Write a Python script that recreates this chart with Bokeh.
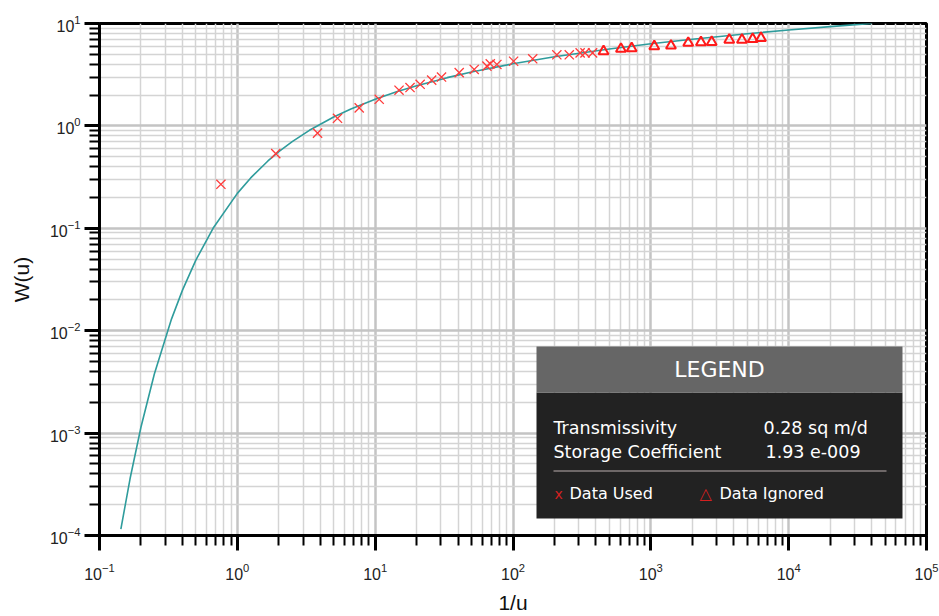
from bokeh.plotting import figure
from bokeh.models import (FixedTicker, BoxAnnotation, Label)
from bokeh.embed import file_html
from bokeh.resources import INLINE

# Theis type curve (1/u, W(u))
curve_inv_u = [0.1429, 0.1667, 0.2, 0.25, 0.3333, 0.4, 0.5, 0.6667, 1.0, 1.25, 1.667,
               2.0, 2.5, 3.333, 5.0, 6.667, 10.0, 14.29, 20.0, 33.33, 50.0, 100.0,
               200.0, 500.0, 1000.0, 2000.0, 5000.0, 10000.0, 20000.0, 40000.0]
curve_w = [1.155e-4, 3.601e-4, 1.148e-3, 3.779e-3, 1.305e-2, 2.491e-2, 4.890e-2, 0.1000,
           0.2194, 0.3106, 0.4544, 0.5598, 0.7024, 0.9057, 1.2227, 1.4645, 1.8229,
           2.1508, 2.4679, 2.9591, 3.3547, 4.0379, 4.7261, 5.6394, 6.3315, 7.0242,
           7.9402, 8.6332, 9.3263, 10.0194]

# Data used (x markers)
used_x = [0.76, 1.9, 3.82, 5.33, 7.66, 10.7, 14.9, 17.9, 21.2, 25.7, 30.3, 40.7, 52.3,
          64.7, 68.4, 76.4, 101, 139, 208, 256, 307, 333, 378]
used_w = [0.269, 0.536, 0.85, 1.187, 1.50, 1.82, 2.23, 2.37, 2.55, 2.80, 3.00, 3.31, 3.56,
          3.83, 4.04, 3.98, 4.28, 4.52, 4.95, 4.95, 5.16, 5.16, 5.16]

# Data ignored (triangles)
ignored_x = [454, 607, 726, 1059, 1400, 1868, 2310, 2763, 3707, 4583, 5481, 6297]
ignored_w = [5.35, 5.64, 5.72, 5.98, 6.07, 6.46, 6.54, 6.59, 6.94, 6.94, 7.05, 7.21]

x_decades = [-1, 0, 1, 2, 3, 4, 5]
y_decades = [-4, -3, -2, -1, 0, 1]

p = figure(width=939, height=616, x_axis_type="log", y_axis_type="log",
           x_range=(1e-1, 1e5), y_range=(1e-4, 1e1),
           output_backend="svg", toolbar_location=None,
           min_border_left=99, min_border_right=13, min_border_top=23, min_border_bottom=76)

xt = FixedTicker(ticks=[10.0 ** d for d in x_decades],
                 minor_ticks=[m * 10.0 ** d for d in x_decades[:-1] for m in range(2, 10)])
yt = FixedTicker(ticks=[10.0 ** d for d in y_decades],
                 minor_ticks=[m * 10.0 ** d for d in y_decades[:-1] for m in range(2, 10)])
p.xaxis.ticker = xt
p.yaxis.ticker = yt

for ax in (p.xaxis[0], p.yaxis[0]):
    ax.axis_line_width = 3
    ax.axis_line_color = "black"
    ax.major_tick_out = 15
    ax.major_tick_in = 0
    ax.minor_tick_out = 10
    ax.minor_tick_in = 0
    ax.major_tick_line_width = 3
    ax.minor_tick_line_width = 2
    ax.major_label_text_font = "Liberation Sans"
    ax.major_label_text_font_size = "16px"
    ax.major_label_text_color = "#222222"
    ax.axis_label_text_font = "Liberation Sans"
    ax.axis_label_text_font_size = "21px"
    ax.axis_label_text_font_style = "normal"
    ax.axis_label_text_color = "#111111"

p.xaxis.axis_label = "1/u"
p.yaxis.axis_label = "W(u)"
p.xaxis.major_label_standoff = 12
p.xaxis.axis_label_standoff = 8
p.yaxis.major_label_standoff = 4
p.yaxis.axis_label_standoff = 14

for g in (p.xgrid[0], p.ygrid[0]):
    g.grid_line_color = "#c4c4c4"
    g.grid_line_width = 2.5
    g.minor_grid_line_color = "#d4d4d4"
    g.minor_grid_line_width = 1.5

p.outline_line_color = "black"
p.outline_line_width = 3
p.background_fill_color = "white"
p.border_fill_color = "white"

p.line(curve_inv_u, curve_w, line_color="#2f9c9c", line_width=1.6)
p.scatter(used_x, used_w, marker="x", size=13, line_color="#ff3b3b", line_width=1.3)
p.scatter(ignored_x, ignored_w, marker="triangle", size=10, line_color="#ff1a1a",
          fill_color=None, line_width=2)

# Legend panel (screen units, relative to frame)
def box(l, r, b, t, color):
    p.add_layout(BoxAnnotation(left=l, right=r, bottom=b, top=t,
                               left_units="screen", right_units="screen",
                               bottom_units="screen", top_units="screen",
                               fill_color=color, fill_alpha=1, line_color=None,
                               level="overlay"))

box(437, 803, 17, 143, "#222222")
box(437, 803, 143, 189, "#666666")
box(454, 787, 63.5, 65.5, "#6e6868")

lf = "DejaVu Sans"

def txt(x, y, t, size, color="white", align="left", font=lf, style="normal", base="alphabetic"):
    p.add_layout(Label(x=x, y=y, x_units="screen", y_units="screen", text=t,
                       text_font=font, text_font_size=size, text_color=color,
                       text_align=align, text_baseline=base, text_font_style=style,
                       level="overlay"))

txt(620, 166, "LEGEND", "22px", align="center", base="middle")
txt(454, 108, "Transmissivity", "17.5px")
txt(664, 108, "0.28 sq m/d", "17.5px")
txt(454, 84, "Storage Coefficient", "17.5px")
txt(666, 84, "1.93 e-009", "17.5px")
txt(455, 42, "x", "14px", color="#d42020")
txt(470, 42, "Data Used", "16px")
txt(600, 42, "\u25b3", "16px", color="#d42020")
txt(620, 42, "Data Ignored", "16px")

open("out.html", "w").write(file_html(p, INLINE))
